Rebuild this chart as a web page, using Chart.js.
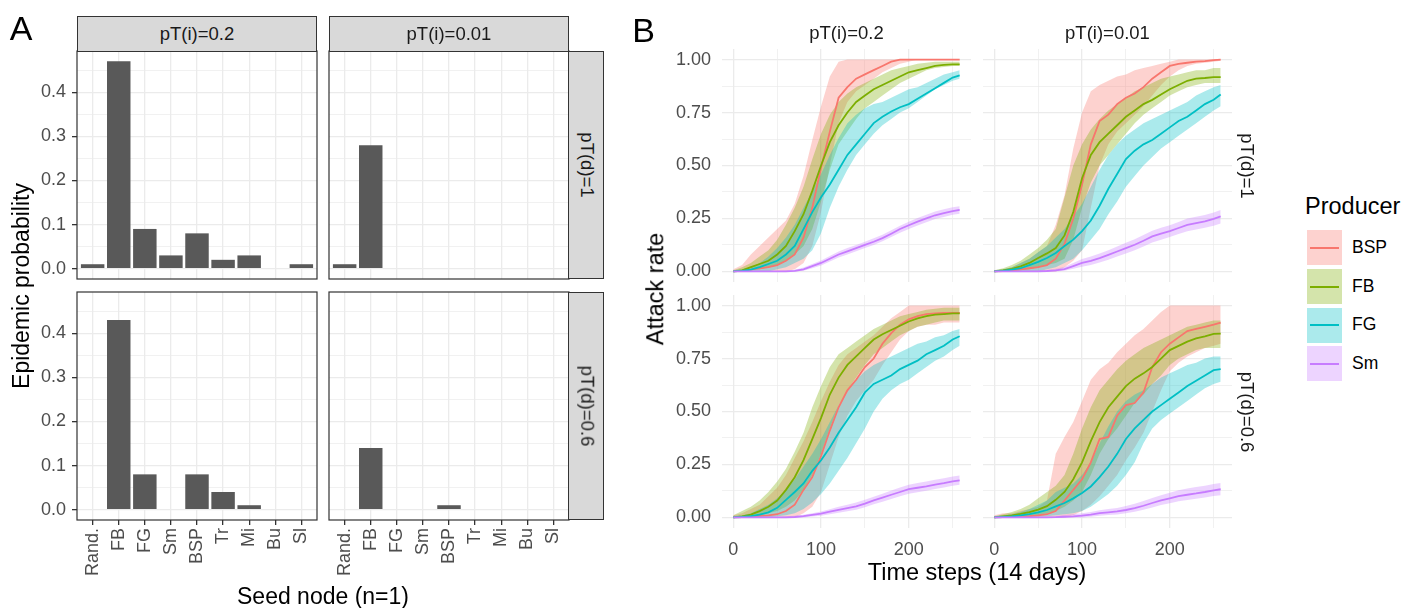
<!DOCTYPE html>
<html><head><meta charset="utf-8">
<script src="https://cdn.jsdelivr.net/npm/chart.js@4.4.1/dist/chart.umd.min.js"></script>
<style>
html,body{margin:0;padding:0;background:#fff;}
body{width:1407px;height:608px;position:relative;overflow:hidden;font-family:"Liberation Sans",Arial,sans-serif;}
canvas{position:absolute;}
.strip{position:absolute;background:#D9D9D9;border:1px solid #333;box-sizing:border-box;}
.lbl{position:absolute;white-space:nowrap;line-height:1;}
</style></head><body>
<script>
// ---------- Panel A data ----------
const seedNodes = ["Rand.","FB","FG","Sm","BSP","Tr","Mi","Bu","Sl"];
const epi_i02_d1  = [0.01,0.47,0.09,0.03,0.08,0.02,0.03,0,0.01];
const epi_i001_d1 = [0.01,0.28,0,0,0,0,0,0,0];
const epi_i02_d06 = [0,0.43,0.08,0,0.08,0.04,0.01,0,0];
const epi_i001_d06= [0,0.14,0,0,0.01,0,0,0,0];
const aTicksY = [0,0.05,0.1,0.15,0.2,0.25,0.3,0.35,0.4,0.45];

// ---------- Panel B data ----------
const producers = ["BSP","FB","FG","Sm"];
const producerColors = ["#F8766D","#7CAE00","#00BFC4","#C77CFF"];
const timeSteps = [0,10,20,30,40,50,60,70,80,90,100,110,120,130,140,150,160,170,180,190,200,210,220,230,240,250,258];
const bTicksX = [0,50,100,150,200,250];
const bTicksY = [0,0.125,0.25,0.375,0.5,0.625,0.75,0.875,1];

// pT(i)=0.2, pT(d)=1
const bsp_i02_d1_mean = [0,0.003,0.008,0.015,0.02,0.03,0.05,0.08,0.16,0.30,0.49,0.66,0.82,0.87,0.91,0.93,0.95,0.97,0.99,1,1,1,1,1,1,1,1];
const bsp_i02_d1_lo   = [0,0,0,0,0,0,0,0.01,0.04,0.12,0.28,0.5,0.7,0.8,0.85,0.88,0.91,0.94,0.96,0.98,0.99,1,1,1,1,1,1];
const bsp_i02_d1_hi   = [0.01,0.03,0.08,0.12,0.16,0.2,0.24,0.32,0.45,0.62,0.78,0.92,0.99,1,1,1,1,1,1,1,1,1,1,1,1,1,1];
const fb_i02_d1_mean  = [0,0.005,0.02,0.035,0.05,0.08,0.12,0.19,0.27,0.38,0.50,0.61,0.69,0.75,0.80,0.83,0.86,0.88,0.90,0.92,0.94,0.95,0.96,0.97,0.975,0.977,0.977];
const fb_i02_d1_lo    = [0,0,0.005,0.01,0.02,0.03,0.05,0.08,0.12,0.2,0.33,0.48,0.6,0.66,0.72,0.77,0.8,0.83,0.86,0.89,0.91,0.93,0.95,0.96,0.965,0.97,0.97];
const fb_i02_d1_hi    = [0.005,0.02,0.04,0.07,0.1,0.15,0.22,0.3,0.4,0.53,0.65,0.74,0.8,0.84,0.87,0.89,0.91,0.93,0.95,0.96,0.97,0.98,0.985,0.99,0.99,0.99,0.99];
const fg_i02_d1_mean  = [0,0.003,0.008,0.02,0.035,0.05,0.08,0.12,0.2,0.28,0.35,0.41,0.48,0.55,0.60,0.65,0.70,0.73,0.755,0.775,0.79,0.815,0.84,0.865,0.89,0.915,0.925];
const fg_i02_d1_lo    = [0,0,0,0,0,0.01,0.02,0.04,0.06,0.1,0.18,0.3,0.4,0.48,0.55,0.6,0.65,0.69,0.72,0.75,0.77,0.8,0.83,0.86,0.88,0.9,0.91];
const fg_i02_d1_hi    = [0.005,0.01,0.02,0.04,0.07,0.11,0.16,0.22,0.3,0.38,0.46,0.55,0.63,0.70,0.74,0.77,0.79,0.8,0.82,0.84,0.86,0.87,0.89,0.91,0.93,0.94,0.95];
const sm_i02_d1_mean  = [0,0,0,0,0,0,0,0.003,0.01,0.025,0.04,0.06,0.08,0.095,0.11,0.125,0.14,0.157,0.178,0.2,0.218,0.235,0.25,0.265,0.275,0.285,0.29];
const sm_i02_d1_lo    = [0,0,0,0,0,0,0,0,0.003,0.015,0.028,0.047,0.066,0.08,0.095,0.11,0.125,0.142,0.162,0.183,0.2,0.217,0.232,0.247,0.257,0.267,0.272];
const sm_i02_d1_hi    = [0,0,0,0,0,0.002,0.004,0.008,0.018,0.035,0.052,0.073,0.094,0.11,0.125,0.14,0.156,0.173,0.194,0.216,0.235,0.252,0.268,0.283,0.293,0.303,0.308];

// pT(i)=0.01, pT(d)=1
const bsp_i001_d1_mean = [0,0.002,0.005,0.01,0.015,0.02,0.03,0.06,0.13,0.25,0.41,0.6,0.71,0.74,0.79,0.82,0.84,0.87,0.91,0.94,0.97,0.98,0.985,0.99,0.993,0.997,1];
const bsp_i001_d1_lo   = [0,0,0,0,0,0,0,0,0.02,0.05,0.1,0.3,0.5,0.6,0.66,0.7,0.74,0.78,0.83,0.88,0.92,0.95,0.97,0.98,0.985,0.99,0.995];
const bsp_i001_d1_hi   = [0.005,0.01,0.02,0.04,0.06,0.09,0.12,0.22,0.36,0.58,0.75,0.85,0.88,0.9,0.92,0.93,0.95,0.96,0.97,0.98,0.99,1,1,1,1,1,1];
const fb_i001_d1_mean  = [0,0.005,0.012,0.024,0.04,0.063,0.085,0.11,0.17,0.28,0.44,0.55,0.61,0.65,0.69,0.73,0.76,0.79,0.81,0.835,0.86,0.88,0.9,0.91,0.913,0.917,0.917];
const fb_i001_d1_lo    = [0,0,0.002,0.005,0.01,0.02,0.03,0.04,0.06,0.15,0.3,0.42,0.5,0.55,0.6,0.65,0.7,0.74,0.77,0.8,0.83,0.85,0.87,0.88,0.89,0.89,0.89];
const fb_i001_d1_hi    = [0.005,0.015,0.03,0.05,0.08,0.11,0.15,0.2,0.35,0.5,0.6,0.67,0.72,0.76,0.79,0.82,0.85,0.87,0.89,0.91,0.92,0.93,0.94,0.95,0.95,0.96,0.96];
const fg_i001_d1_mean  = [0,0.003,0.008,0.015,0.03,0.045,0.063,0.087,0.12,0.15,0.19,0.24,0.31,0.39,0.46,0.53,0.57,0.60,0.62,0.65,0.68,0.71,0.73,0.76,0.79,0.81,0.835];
const fg_i001_d1_lo    = [0,0,0,0,0,0,0.01,0.02,0.04,0.06,0.1,0.15,0.2,0.27,0.33,0.4,0.45,0.5,0.54,0.58,0.61,0.64,0.67,0.7,0.73,0.76,0.78];
const fg_i001_d1_hi    = [0.005,0.01,0.02,0.04,0.06,0.09,0.12,0.16,0.2,0.26,0.32,0.4,0.48,0.55,0.6,0.64,0.67,0.7,0.72,0.74,0.76,0.78,0.8,0.83,0.85,0.87,0.88];
const sm_i001_d1_mean  = [0,0,0,0,0,0,0.002,0.005,0.011,0.025,0.04,0.05,0.063,0.078,0.094,0.11,0.126,0.145,0.165,0.178,0.19,0.205,0.22,0.228,0.236,0.248,0.26];
const sm_i001_d1_lo    = [0,0,0,0,0,0,0,0,0.003,0.012,0.022,0.03,0.042,0.055,0.07,0.085,0.1,0.118,0.137,0.15,0.162,0.177,0.19,0.198,0.206,0.216,0.226];
const sm_i001_d1_hi    = [0,0,0,0,0.002,0.004,0.007,0.012,0.022,0.04,0.058,0.07,0.085,0.1,0.118,0.135,0.152,0.172,0.192,0.206,0.218,0.233,0.25,0.258,0.266,0.278,0.29];

// pT(i)=0.2, pT(d)=0.6
const bsp_i02_d06_mean = [0,0.002,0.004,0.007,0.01,0.015,0.03,0.06,0.13,0.19,0.29,0.41,0.52,0.6,0.65,0.71,0.75,0.82,0.87,0.91,0.935,0.95,0.96,0.963,0.965,0.965,0.965];
const bsp_i02_d06_lo   = [0,0,0,0,0,0,0,0,0.02,0.05,0.12,0.25,0.38,0.48,0.55,0.6,0.65,0.72,0.78,0.84,0.88,0.9,0.91,0.91,0.92,0.92,0.92];
const bsp_i02_d06_hi   = [0.01,0.02,0.04,0.06,0.1,0.14,0.2,0.28,0.36,0.45,0.55,0.64,0.72,0.77,0.8,0.83,0.86,0.9,0.94,0.97,1,1,1,1,1,1,1];
const fb_i02_d06_mean  = [0,0.005,0.013,0.03,0.05,0.08,0.13,0.19,0.27,0.37,0.47,0.58,0.66,0.72,0.76,0.8,0.84,0.865,0.885,0.905,0.925,0.94,0.95,0.957,0.96,0.963,0.963];
const fb_i02_d06_lo    = [0,0,0.003,0.01,0.02,0.03,0.05,0.08,0.13,0.2,0.3,0.42,0.53,0.6,0.66,0.72,0.77,0.8,0.83,0.86,0.88,0.9,0.91,0.92,0.93,0.93,0.93];
const fb_i02_d06_hi    = [0.01,0.03,0.05,0.08,0.12,0.17,0.23,0.31,0.4,0.52,0.62,0.71,0.77,0.8,0.83,0.86,0.89,0.91,0.93,0.95,0.96,0.97,0.98,0.985,0.99,0.99,0.99];
const fg_i02_d06_mean  = [0,0.002,0.006,0.013,0.024,0.045,0.083,0.12,0.16,0.22,0.27,0.33,0.40,0.46,0.52,0.59,0.63,0.65,0.67,0.70,0.72,0.74,0.77,0.79,0.81,0.84,0.855];
const fg_i02_d06_lo    = [0,0,0,0,0,0.005,0.01,0.02,0.04,0.07,0.11,0.16,0.22,0.28,0.35,0.42,0.5,0.56,0.6,0.63,0.65,0.68,0.71,0.74,0.76,0.79,0.81];
const fg_i02_d06_hi    = [0.005,0.01,0.02,0.04,0.06,0.09,0.13,0.18,0.24,0.3,0.37,0.45,0.53,0.6,0.65,0.69,0.72,0.74,0.76,0.78,0.8,0.82,0.83,0.85,0.86,0.88,0.89];
const sm_i02_d06_mean  = [0,0,0,0,0,0,0,0.002,0.006,0.012,0.018,0.027,0.036,0.044,0.052,0.065,0.08,0.093,0.107,0.12,0.133,0.14,0.147,0.155,0.162,0.17,0.175];
const sm_i02_d06_lo    = [0,0,0,0,0,0,0,0,0,0.004,0.008,0.015,0.022,0.029,0.036,0.048,0.062,0.074,0.087,0.1,0.112,0.119,0.126,0.134,0.141,0.149,0.154];
const sm_i02_d06_hi    = [0,0,0,0,0.002,0.003,0.005,0.008,0.013,0.02,0.028,0.038,0.05,0.06,0.07,0.083,0.098,0.112,0.127,0.141,0.154,0.162,0.17,0.178,0.185,0.193,0.198];

// pT(i)=0.01, pT(d)=0.6
const bsp_i001_d06_mean = [0,0.001,0.002,0.004,0.006,0.01,0.015,0.03,0.08,0.13,0.18,0.26,0.37,0.38,0.48,0.53,0.54,0.59,0.71,0.78,0.82,0.85,0.88,0.89,0.90,0.91,0.92];
const bsp_i001_d06_lo   = [0,0,0,0,0,0,0,0,0,0.01,0.03,0.06,0.1,0.15,0.2,0.27,0.33,0.4,0.5,0.6,0.69,0.73,0.76,0.78,0.8,0.81,0.82];
const bsp_i001_d06_hi   = [0.01,0.02,0.02,0.03,0.04,0.05,0.08,0.3,0.38,0.45,0.55,0.65,0.7,0.73,0.78,0.82,0.86,0.89,0.93,0.97,1,1,1,1,1,1,1];
const fb_i001_d06_mean  = [0,0.005,0.01,0.017,0.025,0.037,0.053,0.083,0.12,0.18,0.26,0.36,0.45,0.52,0.57,0.62,0.655,0.68,0.71,0.75,0.79,0.81,0.83,0.845,0.855,0.866,0.868];
const fb_i001_d06_lo    = [0,0,0,0.003,0.006,0.01,0.02,0.03,0.05,0.08,0.12,0.2,0.3,0.37,0.42,0.48,0.54,0.58,0.63,0.67,0.72,0.75,0.77,0.79,0.8,0.8,0.8];
const fb_i001_d06_hi    = [0.005,0.015,0.025,0.04,0.06,0.09,0.12,0.15,0.2,0.3,0.42,0.52,0.6,0.65,0.7,0.74,0.77,0.8,0.82,0.84,0.86,0.88,0.9,0.91,0.92,0.93,0.93];
const fg_i001_d06_mean  = [0,0.002,0.005,0.01,0.016,0.024,0.035,0.052,0.068,0.09,0.115,0.146,0.19,0.24,0.3,0.37,0.42,0.46,0.5,0.53,0.56,0.59,0.62,0.645,0.67,0.695,0.70];
const fg_i001_d06_lo    = [0,0,0,0,0,0.003,0.006,0.01,0.015,0.02,0.03,0.05,0.08,0.11,0.15,0.2,0.26,0.35,0.42,0.46,0.49,0.52,0.55,0.58,0.61,0.63,0.64];
const fg_i001_d06_hi    = [0.005,0.01,0.015,0.025,0.04,0.06,0.08,0.12,0.14,0.16,0.2,0.26,0.35,0.43,0.5,0.55,0.58,0.6,0.63,0.66,0.68,0.7,0.72,0.73,0.75,0.76,0.76];
const sm_i001_d06_mean  = [0,0,0,0,0,0,0,0.001,0.003,0.005,0.008,0.013,0.02,0.024,0.028,0.035,0.044,0.055,0.068,0.08,0.09,0.1,0.107,0.113,0.12,0.128,0.133];
const sm_i001_d06_lo    = [0,0,0,0,0,0,0,0,0,0,0,0.003,0.008,0.011,0.014,0.02,0.027,0.036,0.047,0.058,0.067,0.076,0.082,0.088,0.094,0.101,0.105];
const sm_i001_d06_hi    = [0,0,0,0.001,0.002,0.003,0.005,0.008,0.012,0.016,0.02,0.026,0.034,0.04,0.045,0.054,0.065,0.078,0.092,0.105,0.117,0.128,0.136,0.143,0.15,0.158,0.163];

// ---------- helpers ----------
const FONT = "'Liberation Sans', Arial, sans-serif";
const A_YMIN = -0.0235, A_YMAX = 0.4935;
const B_XMIN = -12.9, B_XMAX = 270.9, B_YMIN = -0.05, B_YMAX = 1.05;
const GRID = '#EBEBEB';

function makeCanvas(left, top, w, h){
  const c = document.createElement('canvas');
  c.width = w; c.height = h;
  c.style.left = left+'px'; c.style.top = top+'px';
  c.style.width = w+'px'; c.style.height = h+'px';
  document.body.appendChild(c);
  return c;
}
function label(text, cx, cy, size, color, rot, anchor){
  const d = document.createElement('div');
  d.className = 'lbl';
  d.textContent = text;
  const tx = anchor === 'left' ? '0' : '-50%';
  d.style.left = cx+'px'; d.style.top = cy+'px';
  d.style.fontSize = size+'px'; d.style.color = color;
  d.style.transform = `translate(${tx},-50%) rotate(${rot||0}deg)`;
  document.body.appendChild(d);
}
function strip(left, top, w, h){
  const d = document.createElement('div');
  d.className = 'strip';
  d.style.left = left+'px'; d.style.top = top+'px';
  d.style.width = w+'px'; d.style.height = h+'px';
  document.body.appendChild(d);
}
function rgba(hex, a){
  const n = parseInt(hex.slice(1),16);
  return `rgba(${(n>>16)&255},${(n>>8)&255},${n&255},${a})`;
}
function zeroPad(s){ s.paddingTop = 0; s.paddingBottom = 0; s.paddingLeft = 0; s.paddingRight = 0; }
const panelBorder = {
  id:'panelBorder',
  afterDraw(chart){
    const {ctx, chartArea:a} = chart;
    ctx.save(); ctx.strokeStyle = '#333333'; ctx.lineWidth = 1.2;
    ctx.strokeRect(a.left, a.top, a.right-a.left, a.bottom-a.top);
    ctx.restore();
  }
};
const isMajorA = v => Math.abs(Math.round(v*10) - v*10) < 1e-6;
const isMajorBY = v => Math.abs(Math.round(v*4) - v*4) < 1e-6;
const isMajorBX = v => Math.abs(v % 100) < 1e-6;

function barFacet(area, values, showX, showY){
  const ml = showY ? 77 : 6, mt = 12, mr = 6, mb = showX ? 82 : 12;
  const c = makeCanvas(area.left-ml, area.top-mt, area.w+ml+mr, area.h+mt+mb);
  new Chart(c, {
    type:'bar',
    data:{ datasets:[{ data: values.map((v,i)=>({x:i, y:v})), backgroundColor:'#595959', borderWidth:0,
      barPercentage:0.9, categoryPercentage:1 }]},
    options:{
      responsive:false, animation:false, devicePixelRatio:1,
      layout:{ autoPadding:false, padding:{ left: showY?0:ml, top:mt, right:mr, bottom: showX?0:mb } },
      plugins:{ legend:{display:false}, tooltip:{enabled:false} },
      scales:{
        x:{ type:'linear', min:-0.6, max:8.6, offset:false,
          afterBuildTicks: s => { s.ticks = seedNodes.map((_,i)=>({value:i})); },
          afterFit: s => { s.height = showX ? mb : 0; zeroPad(s); },
          ticks:{ display:showX, autoSkip:false, minRotation:90, maxRotation:90, padding:3, color:'#4D4D4D',
            font:{family:FONT, size:18}, callback: v => seedNodes[v] },
          grid:{ offset:false, color:GRID, lineWidth:1.3, drawTicks:showX, tickLength:5, tickColor:'#333333', tickWidth:1.3 },
          border:{display:false} },
        y:{ type:'linear', min:A_YMIN, max:A_YMAX,
          afterBuildTicks: s => { s.ticks = aTicksY.map(v=>({value:v})); },
          afterFit: s => { s.width = showY ? ml : 0; zeroPad(s); },
          ticks:{ display:showY, padding:6, color:'#4D4D4D', font:{family:FONT, size:18},
            callback: v => isMajorA(v) ? v.toFixed(1) : '' },
          grid:{ color:GRID, lineWidth: ctx => isMajorA(ctx.tick.value)?1.3:0.7, drawTicks:showY, tickLength:5,
            tickColor: ctx => isMajorA(ctx.tick.value)?'#333333':'rgba(0,0,0,0)', tickWidth:1.3 },
          border:{display:false} }
      }
    },
    plugins:[panelBorder]
  });
}

function lineFacet(area, series, showX, showY){
  const ml = showY ? 60 : 6, mt = 12, mr = 6, mb = showX ? 40 : 12;
  const c = makeCanvas(area.left-ml, area.top-mt, area.w+ml+mr, area.h+mt+mb);
  const pts = arr => arr.map((v,i)=>({x:timeSteps[i], y:v}));
  const datasets = [];
  series.forEach((s,p) => {
    datasets.push({ data: pts(s.lo), borderWidth:0, pointRadius:0, fill:false, order:20-p });
    datasets.push({ data: pts(s.hi), borderWidth:0, pointRadius:0, fill:'-1', backgroundColor: rgba(producerColors[p],0.33), order:20-p });
  });
  series.forEach((s,p) => {
    datasets.push({ data: pts(s.mean), borderColor: producerColors[p], borderWidth:1.8, pointRadius:0, fill:false, tension:0, order:10-p });
  });
  new Chart(c, {
    type:'line',
    data:{ datasets },
    options:{
      responsive:false, animation:false, devicePixelRatio:1,
      layout:{ autoPadding:false, padding:{ left: showY?0:ml, top:mt, right:mr, bottom: showX?0:mb } },
      plugins:{ legend:{display:false}, tooltip:{enabled:false} },
      scales:{
        x:{ type:'linear', min:B_XMIN, max:B_XMAX,
          afterBuildTicks: s => { s.ticks = bTicksX.map(v=>({value:v})); },
          afterFit: s => { s.height = showX ? mb : 0; zeroPad(s); },
          ticks:{ display:showX, autoSkip:false, maxRotation:0, padding:7, color:'#4D4D4D', font:{family:FONT, size:18},
            callback: v => isMajorBX(v) ? String(v) : '' },
          grid:{ color:GRID, lineWidth: ctx => isMajorBX(ctx.tick.value)?1.3:0.7, drawTicks:showX, tickLength:4, tickColor:'rgba(0,0,0,0)' },
          border:{display:false} },
        y:{ type:'linear', min:B_YMIN, max:B_YMAX,
          afterBuildTicks: s => { s.ticks = bTicksY.map(v=>({value:v})); },
          afterFit: s => { s.width = showY ? ml : 0; zeroPad(s); },
          ticks:{ display:showY, padding:7, color:'#4D4D4D', font:{family:FONT, size:18},
            callback: v => isMajorBY(v) ? v.toFixed(2) : '' },
          grid:{ color:GRID, lineWidth: ctx => isMajorBY(ctx.tick.value)?1.3:0.7, drawTicks:showY, tickLength:4, tickColor:'rgba(0,0,0,0)' },
          border:{display:false} }
      }
    }
  });
}

// ---------- Panel A ----------
const A_TL = {left:77, top:51, w:240, h:228};
const A_TR = {left:329, top:51, w:240, h:228};
const A_BL = {left:77, top:292, w:240, h:228};
const A_BR = {left:329, top:292, w:240, h:228};
barFacet(A_TL, epi_i02_d1, false, true);
barFacet(A_TR, epi_i001_d1, false, false);
barFacet(A_BL, epi_i02_d06, true, true);
barFacet(A_BR, epi_i001_d06, true, false);

strip(77, 16, 240, 36);
strip(329, 16, 240, 36);
strip(568, 51, 36, 228);
strip(568, 292, 36, 228);
label("pT(i)=0.2", 197, 33.5, 18.5, '#1A1A1A');
label("pT(i)=0.01", 449, 33.5, 18.5, '#1A1A1A');
label("pT(d)=1", 586.5, 165, 18.5, '#1A1A1A', 90);
label("pT(d)=0.6", 586.5, 406, 18.5, '#1A1A1A', 90);
label("Epidemic probability", 21, 286, 23, '#000', -90);
label("Seed node (n=1)", 323, 596, 23, '#000');
label("A", 21, 28, 34, '#000');

// ---------- Panel B ----------
const mk = (m,l,h) => ({mean:m, lo:l, hi:h});
const B_TL = {left:722, top:49, w:249, h:233};
const B_TR = {left:983, top:49, w:249, h:233};
const B_BL = {left:722, top:295, w:249, h:233};
const B_BR = {left:983, top:295, w:249, h:233};
lineFacet(B_TL, [mk(bsp_i02_d1_mean,bsp_i02_d1_lo,bsp_i02_d1_hi), mk(fb_i02_d1_mean,fb_i02_d1_lo,fb_i02_d1_hi),
                 mk(fg_i02_d1_mean,fg_i02_d1_lo,fg_i02_d1_hi), mk(sm_i02_d1_mean,sm_i02_d1_lo,sm_i02_d1_hi)], false, true);
lineFacet(B_TR, [mk(bsp_i001_d1_mean,bsp_i001_d1_lo,bsp_i001_d1_hi), mk(fb_i001_d1_mean,fb_i001_d1_lo,fb_i001_d1_hi),
                 mk(fg_i001_d1_mean,fg_i001_d1_lo,fg_i001_d1_hi), mk(sm_i001_d1_mean,sm_i001_d1_lo,sm_i001_d1_hi)], false, false);
lineFacet(B_BL, [mk(bsp_i02_d06_mean,bsp_i02_d06_lo,bsp_i02_d06_hi), mk(fb_i02_d06_mean,fb_i02_d06_lo,fb_i02_d06_hi),
                 mk(fg_i02_d06_mean,fg_i02_d06_lo,fg_i02_d06_hi), mk(sm_i02_d06_mean,sm_i02_d06_lo,sm_i02_d06_hi)], true, true);
lineFacet(B_BR, [mk(bsp_i001_d06_mean,bsp_i001_d06_lo,bsp_i001_d06_hi), mk(fb_i001_d06_mean,fb_i001_d06_lo,fb_i001_d06_hi),
                 mk(fg_i001_d06_mean,fg_i001_d06_lo,fg_i001_d06_hi), mk(sm_i001_d06_mean,sm_i001_d06_lo,sm_i001_d06_hi)], true, false);

label("B", 643.5, 30, 34, '#000');
label("pT(i)=0.2", 846.5, 33, 18.5, '#1A1A1A');
label("pT(i)=0.01", 1107.5, 33, 18.5, '#1A1A1A');
label("pT(d)=1", 1247, 165.5, 18.5, '#1A1A1A', 90);
label("pT(d)=0.6", 1247, 411.5, 18.5, '#1A1A1A', 90);
label("Attack rate", 655.5, 288.5, 23.5, '#000', -90);
label("Time steps (14 days)", 977, 573, 23.5, '#000');

// legend
label("Producer", 1305, 207, 23.5, '#000', 0, 'left');
const keyTops = [230, 269, 307.5, 346];
producers.forEach((p,i) => {
  const box = document.createElement('div');
  box.style.cssText = `position:absolute;left:1307px;top:${keyTops[i]}px;width:35px;height:35px;background:${rgba(producerColors[i],0.33)};`;
  const ln = document.createElement('div');
  ln.style.cssText = `position:absolute;left:3px;top:16.5px;width:29px;height:2px;background:${producerColors[i]};`;
  box.appendChild(ln);
  document.body.appendChild(box);
  label(p, 1352, keyTops[i]+17.5, 17.5, '#000', 0, 'left');
});
</script>
</body></html>
